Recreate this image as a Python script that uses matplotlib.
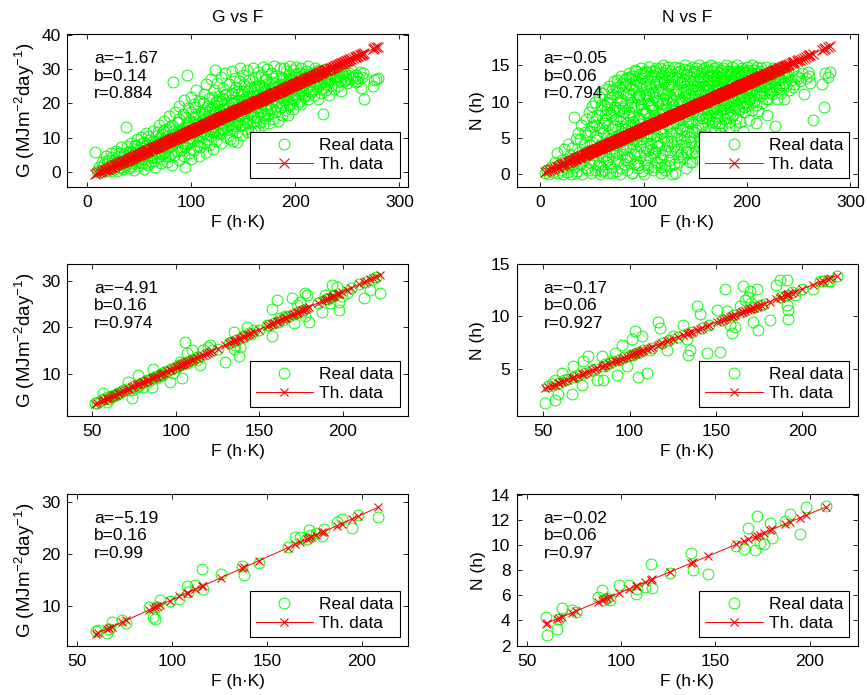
import matplotlib.pyplot as plt

plt.rcParams.update({
    "font.family": ["Liberation Sans", "DejaVu Sans"],
    "font.size": 12.5,
    "mathtext.default": "regular",
    "axes.linewidth": 0.8,
})

GREEN = "#00ff00"
RED = "#ff0000"

TOP_G_PTS = [
    (8, 6.0), (10, 0.5), (12, 1.5), (13, 0.2), (14, 3.0),
    (16, 2.5), (17, 0.8), (18, 4.8), (20, 1.2), (21, 3.6), (22, 0.4), (23, 5.6), (24, 2.2),
    (26, 1.0), (27, 3.8), (28, 6.3), (29, 0.5), (30, 2.5), (31, 4.6), (32, 1.6), (33, 7.2), (34, 3.2), (35, 0.8),
    (36, 5.4), (37, 13.1), (37, 2.0), (38, 7.5), (39, 4.0), (40, 1.2), (41, 6.2), (42, 8.6), (43, 2.8), (44, 5.0), (45, 0.6),
    (46, 3.6), (47, 7.6), (48, 9.8), (49, 1.8), (50, 5.6), (51, 4.2), (52, 10.2), (53, 2.6), (54, 7.0), (55, 1.0), (55, 8.8),
    (56, 4.8), (57, 11.4), (58, 6.4), (59, 2.2), (60, 9.4), (61, 3.4), (62, 7.8), (63, 12.0), (64, 5.6), (65, 1.6),
    (66, 10.6), (67, 4.0), (68, 8.2), (69, 13.6), (70, 6.2), (71, 2.6), (72, 11.2), (73, 7.4), (74, 15.0), (75, 4.8), (75, 9.6),
    (76, 12.6), (77, 3.0), (78, 7.0), (79, 16.4), (80, 10.0), (81, 5.4), (82, 2.0), (82, 13.8), (83, 26.3), (84, 8.4), (85, 17.6), (85, 11.2),
    (86, 6.2), (87, 14.6), (88, 3.6), (88, 19.4), (89, 9.6), (90, 12.4), (91, 7.4), (92, 16.8), (93, 4.8), (93, 21.0), (94, 1.6), (94, 10.8), (95, 13.6),
    (96, 28.4), (96, 8.2), (97, 18.6), (98, 5.6), (98, 15.0), (99, 11.4), (100, 22.0), (100, 3.8), (101, 13.0), (102, 9.2), (103, 19.8), (103, 6.6), (104, 16.2), (105, 11.8), (105, 24.0),
    (106, 7.8), (107, 14.2), (108, 20.6), (108, 4.6), (109, 10.4), (110, 17.4), (111, 12.8), (112, 22.8), (112, 8.6), (113, 15.6), (114, 25.6), (114, 6.0), (115, 19.2), (115, 11.0),
    (116, 13.8), (117, 21.6), (117, 8.0), (118, 16.6), (119, 27.0), (119, 10.6), (120, 18.8), (121, 6.8), (121, 14.8), (122, 23.8), (123, 12.2), (123, 29.8), (124, 17.2), (124, 9.2), (125, 20.4), (125, 26.0),
    (126, 14.0), (127, 22.2), (127, 11.0), (128, 18.0), (129, 27.8), (129, 8.4), (130, 15.6), (131, 24.4), (131, 12.6), (132, 20.2), (133, 16.8), (133, 28.8), (134, 10.2), (134, 22.8), (135, 18.6), (135, 13.8),
    (136, 25.6), (137, 15.8), (137, 9.6), (138, 21.0), (139, 29.4), (139, 12.8), (140, 18.0), (140, 9.0), (141, 24.0), (142, 15.0), (142, 27.4), (143, 20.6), (144, 11.8), (144, 8.9), (145, 22.8), (145, 17.0),
    (146, 26.4), (147, 30.2), (147, 13.8), (148, 19.4), (149, 23.6), (149, 10.8), (150, 16.2), (150, 28.2), (151, 21.4), (152, 12.6), (152, 25.0), (153, 18.4), (154, 29.6), (154, 14.8), (155, 22.2), (155, 11.6),
    (156, 26.8), (157, 17.2), (158, 11.6), (158, 20.8), (159, 30.4), (159, 15.0), (160, 24.2), (161, 13.2), (161, 27.8), (162, 19.0), (163, 22.6), (163, 16.0), (164, 29.2), (164, 12.4), (165, 25.4), (165, 20.0),
    (166, 14.6), (167, 28.4), (167, 22.0), (168, 17.8), (169, 30.6), (169, 13.8), (170, 24.8), (171, 19.6), (171, 15.8), (172, 27.2), (173, 21.8), (173, 30.0), (174, 16.8), (175, 25.8), (175, 14.2),
    (176, 23.0), (177, 29.0), (177, 18.6), (178, 26.2), (179, 15.4), (179, 21.2), (180, 30.8), (181, 24.4), (181, 17.4), (182, 28.0), (183, 20.4), (183, 14.8), (184, 25.6), (185, 30.2), (185, 19.0),
    (186, 22.6), (187, 27.6), (187, 16.6), (188, 24.8), (189, 30.4), (189, 20.6), (190, 18.0), (191, 26.0), (191, 29.4), (192, 22.0), (193, 16.7), (194, 28.2), (194, 24.0), (195, 19.6), (195, 30.8),
    (196, 26.6), (197, 21.6), (198, 29.6), (198, 18.4), (199, 24.6), (200, 27.8), (201, 22.8), (201, 30.6), (202, 19.8), (203, 26.0), (204, 28.8), (204, 23.6), (205, 20.8),
    (206, 19.7), (206, 30.2), (207, 25.4), (208, 27.8), (209, 22.4), (210, 29.4), (211, 24.6), (212, 21.2), (212, 30.8), (213, 27.0), (214, 25.8), (215, 23.4),
    (216, 29.0), (217, 26.4), (218, 22.6), (219, 30.2), (220, 24.8), (221, 27.8), (222, 21.4), (223, 29.4), (224, 25.6), (225, 23.0),
    (226, 28.4), (227, 17.0), (228, 26.2), (229, 30.0), (230, 24.0), (231, 27.6), (232, 22.6), (233, 29.0), (234, 25.4),
    (236, 28.2), (237, 24.2), (238, 26.8), (240, 29.6), (241, 25.2), (242, 27.6), (244, 23.6), (245, 28.8),
    (247, 26.6), (248, 29.0), (250, 26.0), (251, 28.2), (253, 27.4), (254, 29.6),
    (256, 27.6), (258, 28.4), (259, 26.6), (262, 29.2), (263, 24.6), (264, 27.8), (266, 21.2), (265, 28.8),
    (275, 25.2), (276, 26.8), (278, 27.0), (280, 27.4),
]

# denser core of the G cloud, close to the fitted line
TOP_G_CORE = [
    (19, 3.2), (24, 4.4), (27, 1.8), (31, 5.6), (34, 1.4), (36, 3.4), (39, 6.0), (42, 1.8), (43, 5.8), (46, 8.0),
    (48, 3.2), (51, 6.6), (53, 8.6), (56, 2.8), (57, 7.8), (59, 10.4), (61, 5.0), (63, 9.0), (64, 3.2), (66, 7.0),
    (68, 11.6), (69, 4.6), (71, 9.0), (72, 5.2), (74, 12.4), (76, 8.2), (77, 10.6), (78, 4.8), (80, 13.2), (81, 7.6),
    (83, 11.0), (84, 5.0), (86, 9.8), (87, 12.0), (88, 15.6), (90, 6.4), (91, 10.2), (92, 13.0), (94, 7.2), (95, 16.2),
    (96, 11.2), (97, 14.2), (99, 8.8), (100, 17.6), (101, 10.0), (102, 14.6), (103, 12.4), (104, 19.0), (106, 10.6), (107, 16.6),
    (108, 13.2), (109, 7.2), (110, 15.0), (111, 20.0), (112, 11.4), (113, 18.0), (114, 13.8), (116, 9.8), (117, 17.4), (118, 12.0),
    (119, 15.2), (120, 22.0), (121, 11.6), (122, 18.4), (123, 15.6), (124, 20.8), (126, 11.8), (127, 17.2), (128, 14.4), (129, 20.6),
    (130, 12.4), (131, 18.6), (132, 15.2), (133, 22.6), (134, 13.2), (136, 19.4), (137, 12.4), (138, 16.6), (139, 23.0), (140, 14.0),
    (141, 20.4), (142, 18.2), (143, 24.8), (144, 15.2), (146, 19.8), (147, 16.4), (148, 22.8), (149, 13.6), (150, 20.6), (151, 25.6),
    (152, 17.8), (153, 21.8), (154, 14.4), (156, 19.0), (157, 24.6), (158, 16.6), (159, 22.2), (160, 18.2), (161, 25.0), (162, 14.8),
    (163, 19.8), (164, 22.8), (166, 17.6), (167, 25.0), (168, 20.2), (169, 23.4), (170, 16.6), (171, 26.8), (172, 19.6), (173, 24.2),
    (174, 21.2), (176, 18.4), (177, 23.8), (178, 20.6), (179, 27.4), (180, 22.4), (182, 19.2), (183, 25.2), (184, 21.8), (186, 24.4),
    (187, 20.2), (188, 27.2), (190, 23.2), (191, 21.2), (192, 25.8), (194, 19.8), (195, 27.0), (196, 23.2), (198, 25.6), (199, 21.0),
    (200, 28.6), (202, 24.4), (203, 22.2), (205, 26.8), (206, 24.0), (208, 21.8), (209, 28.6), (211, 26.4), (213, 23.6), (215, 28.2),
    (217, 24.2), (218, 27.8), (220, 26.6), (222, 29.6), (223, 25.0), (225, 27.4), (227, 24.6), (229, 28.4), (231, 25.8), (233, 27.0),
    (235, 29.2), (239, 27.8), (243, 26.4), (246, 28.0), (249, 27.2), (252, 28.8), (257, 26.2), (260, 27.4),
    (45.5, 4.3), (50.5, 3.1), (54.5, 5.3), (58.5, 7.1), (62.5, 4.3), (65.5, 8.9), (67.5, 6.1), (70.5, 10.3), (73.5, 5.9), (76.5, 9.3),
    (79.5, 7.9), (82.5, 11.9), (85.5, 8.7), (89.5, 11.3), (92.5, 8.5), (95.5, 12.3), (98.5, 9.9), (101.5, 15.7), (104.5, 13.9), (106.5, 9.1),
    (109.5, 12.1), (112.5, 16.9), (115.5, 14.7), (118.5, 18.5), (121.5, 13.1), (125.5, 16.7), (128.5, 12.9), (130.5, 21.3), (133.5, 18.1), (136.5, 15.1),
    (139.5, 19.9), (142.5, 13.5), (145.5, 21.1), (148.5, 17.3), (151.5, 19.5), (154.5, 23.5), (157.5, 20.1), (160.5, 16.1), (163.5, 24.1), (166.5, 19.1),
    (169.5, 21.9), (172.5, 18.1), (175.5, 22.1), (178.5, 24.9), (181.5, 21.1), (184.5, 23.1), (187.5, 25.3), (190.5, 22.3), (193.5, 26.5), (197.5, 24.1),
    (200.5, 25.9), (204.5, 27.3), (207.5, 23.1), (210.5, 26.1), (214.5, 27.1), (219.5, 25.9), (224.5, 28.1), (230.5, 26.9),
]

TOP_N_PTS = [
    (5, 0.1), (7, 0.6), (9, 0.0), (11, 1.0), (12, 0.3), (14, 1.6),
    (16, 2.9), (17, 0.2), (18, 1.2), (20, 0.5), (21, 2.0), (22, 0.0), (23, 3.4), (24, 1.0),
    (26, 0.3), (27, 4.2), (28, 1.6), (29, 2.6), (30, 0.0), (31, 3.6), (32, 1.0), (33, 7.9), (34, 2.2), (35, 4.8),
    (36, 0.4), (37, 5.6), (38, 3.0), (39, 1.4), (40, 6.8), (41, 0.0), (42, 4.2), (43, 2.4), (44, 7.6), (45, 0.8), (45, 5.4),
    (46, 3.2), (47, 8.6), (47, 1.6), (48, 6.0), (49, 0.2), (50, 9.4), (50, 4.4), (51, 2.6), (52, 7.2), (53, 0.6), (53, 10.0), (54, 5.2), (55, 3.4), (55, 8.2),
    (56, 1.2), (57, 10.6), (57, 6.4), (58, 0.0), (58, 4.0), (59, 8.8), (60, 2.4), (60, 11.2), (61, 5.8), (62, 0.6), (62, 9.6), (63, 3.6), (63, 7.4), (64, 11.8), (64, 1.8), (65, 5.0), (65, 9.0),
    (66, 0.2), (66, 6.8), (67, 12.2), (67, 3.0), (68, 10.0), (68, 4.8), (69, 8.2), (69, 1.0), (70, 11.6), (70, 6.2), (71, 2.6), (71, 12.8), (72, 9.2), (72, 4.0), (73, 0.4), (73, 7.6), (74, 13.0), (74, 10.6), (75, 5.4), (75, 2.0),
    (76, 8.8), (76, 12.0), (77, 0.0), (77, 4.4), (78, 6.6), (78, 13.6), (79, 10.2), (79, 2.8), (80, 11.4), (80, 7.8), (81, 1.4), (81, 5.6), (82, 13.0), (82, 9.4), (83, 13.2), (83, 3.6), (84, 0.6), (84, 7.0), (85, 11.0), (85, 4.8),
    (86, 14.0), (86, 8.6), (87, 2.2), (87, 12.4), (88, 6.0), (88, 10.0), (89, 0.2), (89, 13.6), (90, 4.2), (90, 8.0), (91, 11.6), (91, 1.4), (92, 14.4), (92, 6.8), (93, 14.2), (93, 3.2), (94, 9.6), (94, 12.8), (95, 5.4), (95, 0.8),
    (96, 10.8), (96, 7.4), (97, 13.8), (97, 2.6), (98, 14.6), (98, 4.8), (99, 9.0), (99, 12.2), (100, 0.0), (100, 6.4), (101, 11.0), (101, 14.2), (102, 3.6), (102, 8.4), (103, 13.0), (103, 1.2), (104, 10.2), (104, 5.6), (105, 14.8), (105, 7.8),
    (106, 2.4), (106, 12.4), (107, 9.4), (107, 4.2), (108, 14.2), (108, 6.8), (109, 0.6), (109, 11.4), (110, 13.6), (110, 8.2), (111, 3.0), (111, 10.6), (112, 14.6), (112, 5.4), (113, 1.6), (113, 12.8), (114, 7.2), (114, 9.8), (115, 14.0), (115, 4.0),
    (116, 11.8), (116, 6.2), (117, 0.2), (117, 13.4), (118, 8.8), (118, 2.8), (119, 15.0), (119, 10.4), (120, 5.0), (120, 12.6), (121, 7.6), (121, 1.2), (122, 14.4), (122, 9.6), (123, 3.8), (123, 11.2), (124, 6.6), (124, 14.8), (125, 13.4), (125, 2.0),
    (126, 8.2), (126, 10.8), (127, 4.6), (127, 14.2), (128, 0.0), (128, 12.0), (129, 7.0), (129, 9.4), (130, 0.1), (130, 14.8), (131, 5.8), (131, 11.6), (132, 3.2), (132, 13.2), (133, 8.6), (133, 10.2), (134, 1.6), (134, 14.6), (135, 6.4), (135, 12.6),
    (136, 4.0), (136, 9.8), (137, 14.0), (137, 7.6), (138, 2.4), (138, 11.4), (139, 13.0), (139, 5.2), (140, 10.6), (140, 15.0), (141, 8.0), (141, 0.8), (142, 12.4), (142, 6.0), (143, 3.4), (143, 14.4), (144, 9.2), (144, 11.0), (145, 7.0), (145, 13.6),
    (146, 4.4), (146, 10.0), (147, 14.8), (147, 1.7), (148, 8.6), (148, 12.2), (149, 5.8), (149, 13.8), (150, 3.0), (150, 11.2), (151, 7.4), (151, 14.6), (152, 9.8), (152, 2.2), (153, 12.8), (153, 6.4), (154, 10.4), (154, 15.0), (155, 4.6), (155, 8.2),
    (156, 13.4), (156, 11.0), (157, 6.8), (157, 14.4), (158, 9.0), (158, 3.6), (159, 12.2), (159, 7.8), (160, 14.8), (160, 10.2), (161, 5.2), (161, 13.0), (162, 8.4), (162, 11.8), (163, 2.6), (163, 14.2), (164, 9.6), (164, 6.2), (165, 12.6), (165, 15.0),
    (166, 7.2), (166, 10.8), (167, 13.6), (167, 4.4), (168, 14.6), (168, 9.0), (169, 11.6), (169, 6.0), (170, 13.0), (170, 8.0), (171, 14.8), (171, 10.4), (172, 3.2), (172, 12.2), (173, 7.0), (173, 14.0), (174, 9.6), (174, 11.2), (175, 5.6), (175, 13.4),
    (176, 6.6), (176, 12.0), (177, 14.6), (177, 9.0), (178, 10.8), (178, 4.6), (179, 13.4), (179, 7.8), (180, 11.4), (180, 15.0), (181, 8.4), (181, 2.8), (182, 12.8), (182, 10.0), (183, 14.2), (183, 6.4), (184, 9.2), (184, 13.0), (185, 11.6), (185, 5.0),
    (186, 14.8), (186, 8.0), (187, 12.4), (187, 10.2), (188, 6.8), (188, 13.8), (189, 9.6), (189, 11.0), (190, 15.0), (190, 4.2), (191, 12.6), (191, 8.8), (192, 14.2), (192, 10.6), (193, 7.2), (193, 13.2), (194, 11.8), (195, 9.4), (195, 14.6),
    (196, 12.0), (196, 6.0), (197, 14.0), (197, 10.8), (198, 8.6), (198, 13.0), (199, 11.4), (200, 14.8), (200, 9.6), (201, 12.6), (202, 7.4), (202, 14.2), (203, 10.4), (204, 13.4), (204, 11.8), (205, 8.8), (205, 15.0),
    (206, 12.4), (207, 14.4), (207, 10.0), (208, 13.2), (209, 7.0), (209, 11.4), (210, 14.8), (211, 12.8), (211, 8.7), (212, 13.8), (213, 10.8), (214, 14.6), (214, 12.0), (215, 9.8),
    (216, 13.6), (217, 11.2), (218, 14.8), (219, 12.6), (219, 8.2), (220, 10.4), (221, 14.0), (222, 12.0), (223, 13.6), (224, 11.0), (225, 14.6),
    (226, 12.6), (227, 6.6), (228, 13.8), (229, 10.4), (230, 14.4), (231, 12.0), (232, 13.0), (233, 11.2), (234, 14.0),
    (236, 10.3), (237, 13.4), (238, 12.2), (240, 14.2), (241, 11.6), (243, 13.0), (245, 14.4), (246, 12.4), (248, 13.6),
    (251, 12.9), (253, 14.0), (255, 11.0), (257, 13.2), (259, 14.1), (260, 13.6), (261, 12.6), (264, 7.5),
    (273, 12.5), (275, 9.3), (276, 14.0), (278, 13.4), (280, 14.1),
]

# denser core of the N cloud
TOP_N_CORE = [
    (30.5, 1.2), (34.5, 0.2), (38.5, 4.8), (41.5, 2.0), (43.5, 5.8), (46.5, 0.6), (48.5, 4.0), (50.5, 6.6), (52.5, 1.8), (54.5, 6.8),
    (56.5, 3.0), (58.5, 9.6), (59.5, 0.4), (61.5, 7.0), (63.5, 2.6), (64.5, 10.0), (66.5, 4.2), (67.5, 8.4), (69.5, 0.2), (69.5, 11.0),
    (70.5, 3.6), (72.5, 6.6), (73.5, 12.0), (74.5, 1.6), (76.5, 5.2), (77.5, 9.8), (78.5, 0.8), (79.5, 12.6), (80.5, 3.4), (81.5, 8.6),
    (82.5, 6.2), (83.5, 11.0), (84.5, 2.4), (85.5, 13.4), (86.5, 5.0), (87.5, 9.2), (88.5, 0.2), (88.5, 11.8), (89.5, 7.2), (90.5, 2.8),
    (91.5, 13.0), (92.5, 4.6), (93.5, 10.6), (94.5, 1.2), (95.5, 7.8), (96.5, 12.6), (97.5, 5.6), (98.5, 0.4), (99.5, 10.4), (99.5, 14.0),
    (100.5, 3.0), (101.5, 8.6), (102.5, 12.0), (103.5, 5.2), (104.5, 0.8), (105.5, 11.2), (106.5, 7.2), (107.5, 13.6), (108.5, 3.4), (109.5, 9.2),
    (110.5, 1.0), (111.5, 12.4), (112.5, 7.6), (113.5, 4.4), (114.5, 11.6), (115.5, 14.6), (116.5, 2.2), (117.5, 9.8), (118.5, 6.0), (119.5, 12.8),
    (120.5, 0.6), (121.5, 10.4), (122.5, 4.6), (123.5, 13.8), (124.5, 8.4), (125.5, 3.0), (126.5, 12.4), (127.5, 6.4), (128.5, 10.2), (129.5, 1.4),
    (130.5, 13.4), (131.5, 8.4), (132.5, 4.8), (133.5, 11.6), (134.5, 7.6), (135.5, 14.2), (136.5, 2.8), (137.5, 10.2), (138.5, 6.6), (139.5, 12.2),
    (140.5, 4.4), (141.5, 13.8), (142.5, 9.8), (143.5, 7.6), (144.5, 1.6), (145.5, 11.8), (146.5, 5.8), (147.5, 13.0), (148.5, 9.6), (149.5, 3.8),
    (150.5, 14.2), (151.5, 8.6), (152.5, 11.6), (153.5, 5.2), (154.5, 13.2), (155.5, 10.2), (156.5, 7.8), (157.5, 12.2), (158.5, 14.6), (159.5, 5.8),
    (160.5, 11.6), (161.5, 9.0), (162.5, 13.6), (163.5, 7.4), (164.5, 11.0), (165.5, 8.6), (166.5, 14.2), (167.5, 10.0), (168.5, 12.8), (169.5, 7.0),
    (170.5, 9.4), (171.5, 13.6), (172.5, 11.0), (173.5, 8.4), (174.5, 14.4), (175.5, 10.4), (176.5, 12.8), (177.5, 7.6), (178.5, 13.8), (179.5, 9.8),
    (180.5, 12.4), (181.5, 11.0), (182.5, 7.2), (183.5, 13.6), (184.5, 10.8), (185.5, 14.2), (186.5, 9.6), (187.5, 11.6), (188.5, 13.2), (189.5, 7.8),
    (190.5, 12.0), (191.5, 14.0), (192.5, 9.0), (193.5, 11.4), (194.5, 13.6), (195.5, 10.6), (196.5, 14.4), (197.5, 12.2), (198.5, 9.8), (199.5, 13.6),
    (200.5, 11.8), (201.5, 14.4), (202.5, 10.2), (203.5, 12.4), (204.5, 14.0), (206.5, 11.0), (207.5, 13.2), (208.5, 9.6), (210.5, 12.2), (212.5, 14.2),
    (213.5, 11.6), (215.5, 13.0), (217.5, 12.4), (218.5, 10.4), (220.5, 13.4), (222.5, 11.4), (223.5, 14.2), (226.5, 13.0), (228.5, 11.8), (231.5, 13.4),
    (235.5, 12.6), (239.5, 13.4), (244.5, 12.0), (249.5, 13.2),
    (44.25, 3.1), (49.75, 7.9), (54.25, 4.7), (57.75, 1.1), (60.25, 6.3), (62.75, 8.1), (65.75, 2.1), (67.25, 10.7), (70.75, 8.9), (71.25, 5.1),
    (73.75, 2.9), (75.25, 11.3), (77.25, 7.3), (78.75, 3.9), (80.25, 9.1), (81.75, 12.1), (83.25, 1.9), (84.75, 8.1), (85.25, 5.9), (86.75, 10.9),
    (87.25, 3.7), (88.75, 13.1), (89.25, 6.5), (90.75, 9.3), (91.25, 4.9), (92.75, 12.3), (93.25, 1.7), (94.75, 7.5), (95.25, 11.1), (96.75, 3.9),
    (97.25, 9.7), (98.75, 13.3), (99.25, 5.3), (100.75, 8.3), (101.75, 1.9), (102.75, 10.9), (103.25, 14.1), (104.75, 3.3), (105.25, 9.5), (106.75, 5.3),
    (107.25, 11.9), (108.75, 8.9), (109.25, 2.9), (110.75, 14.3), (111.25, 6.3), (112.75, 10.1), (113.25, 3.9), (114.75, 12.7), (115.25, 8.3), (116.75, 0.9),
    (117.25, 5.7), (118.75, 11.1), (119.25, 13.9), (120.75, 3.3), (121.25, 8.9), (122.75, 6.9), (123.25, 12.3), (124.75, 1.1), (125.25, 10.3), (126.75, 5.5),
    (127.25, 13.1), (128.75, 8.7), (129.25, 3.9), (130.75, 11.1), (131.25, 7.1), (132.75, 14.1), (133.25, 2.3), (134.75, 9.9), (135.25, 4.9), (136.75, 12.7),
    (137.25, 6.1), (138.75, 8.9), (139.25, 14.5), (140.75, 3.1), (141.25, 11.7), (142.75, 7.3), (143.25, 10.5), (144.75, 5.1), (145.25, 12.9), (146.75, 8.3),
    (147.25, 2.9), (148.75, 10.7), (149.25, 14.1), (150.75, 6.1), (151.25, 12.1), (152.75, 8.1), (153.25, 3.9), (154.75, 11.3), (155.25, 13.9), (156.75, 9.7),
    (157.25, 5.3), (158.75, 12.9), (159.25, 10.9), (160.75, 7.9), (161.25, 14.3), (162.75, 10.3), (163.25, 12.3), (164.75, 8.1), (165.25, 13.7), (166.75, 11.5),
    (167.25, 9.1), (168.75, 13.3), (169.25, 10.7), (170.75, 12.3), (171.25, 7.7), (172.75, 14.1), (173.25, 11.9), (174.75, 8.9), (175.25, 12.9), (176.75, 10.1),
    (177.25, 13.1), (178.75, 9.1), (179.25, 11.9), (180.75, 14.3), (181.25, 9.9), (182.75, 12.1), (183.25, 8.3), (184.75, 13.9), (185.25, 10.3), (186.75, 12.9),
    (187.25, 9.1), (188.75, 11.3), (189.25, 14.3), (190.75, 10.9), (191.25, 13.1), (192.75, 12.1), (193.25, 9.9), (194.75, 12.9), (195.25, 11.1), (196.75, 13.7),
    (197.25, 9.3), (198.75, 11.9), (199.25, 14.1), (200.75, 10.7), (202.25, 12.9), (203.75, 11.3), (205.25, 13.7), (206.75, 10.1), (208.25, 12.3), (209.75, 13.9),
    (211.25, 11.1), (213.25, 12.7), (216.25, 12.1), (219.75, 13.1), (221.25, 11.7), (224.25, 12.9), (227.25, 12.1), (230.25, 13.1), (233.75, 12.3), (238.25, 13.9),
]

# ---- row 2 ----
MID_G_PTS = [
    (51.6, 3.8), (56.6, 5.8), (58.6, 4.0), (62.6, 5.1), (65.6, 5.8), (68.6, 6.5), (73.6, 4.7), (73.6, 6.5),
    (76.6, 7.2), (71.6, 8.3), (80.6, 7.2), (77.6, 9.7), (86.6, 11.1), (82.6, 8.6), (85.6, 7.2), (90.6, 9.4),
    (96.6, 8.3), (98.6, 10.1), (103.6, 9.0), (102.6, 12.6), (105.6, 16.9), (106.6, 14.4), (109.6, 15.1),
    (112.6, 12.9), (114.6, 11.9), (119.6, 15.8), (120.6, 16.2), (116.6, 15.1), (129.6, 12.6), (134.6, 19.0),
    (135.6, 16.2), (137.6, 13.7), (138.6, 15.8), (134.6, 15.4), (143.6, 18.7), (142.6, 20.0), (146.6, 19.4),
    (157.6, 18.1), (154.6, 20.5), (157.6, 24.0), (160.6, 25.8), (162.6, 21.9), (165.6, 22.3), (169.6, 26.2),
    (170.6, 20.8), (172.6, 24.8), (174.6, 25.5), (175.6, 23.3), (178.6, 26.9), (179.6, 21.2), (177.6, 22.3),
    (187.6, 23.3), (192.6, 25.1), (193.6, 29.1), (196.6, 28.7), (197.6, 25.5), (199.6, 26.6), (197.6, 23.7),
    (202.6, 27.3), (212.6, 26.2), (216.6, 28.0), (222.6, 27.3), (189.6, 26.9), (177.6, 27.3),
    (53, 3.8), (55, 4.3), (57, 4.5), (59, 5.0), (60, 4.6), (61, 5.2), (63, 5.5), (64, 5.4), (66, 5.9),
    (67, 6.0), (70, 6.6), (72, 6.5), (75, 7.4), (78, 7.6), (79, 8.0), (81, 8.2), (83, 8.7), (84, 8.4),
    (87, 9.3), (88, 9.0), (89, 9.6), (91, 10.0), (92, 9.8), (93, 10.3), (95, 10.6), (97, 10.9), (100, 11.4),
    (101, 11.5), (102, 11.8), (104, 12.0), (105, 12.2), (107, 12.4), (108, 12.7), (110, 12.9), (111, 13.1),
    (113, 13.5), (118, 14.2), (122, 15.0), (125, 15.3), (132, 16.6), (133, 16.8), (136, 17.2), (140, 18.0),
    (141, 17.9), (145, 18.6), (150, 19.4), (156, 20.4), (159, 20.8), (161, 21.2), (164, 21.6), (166, 22.1),
    (168, 22.3), (171, 22.8), (173, 23.2), (176, 23.6), (185, 25.2), (190, 26.0), (191, 26.0), (194, 26.6),
    (195, 26.8), (205, 28.4), (210, 29.2), (214, 29.8), (218, 30.4), (220, 30.8),
]

MID_N_PTS = [
    (51, 1.7), (56.8, 2.0), (58.7, 2.6), (56.8, 3.9), (60.6, 4.6), (66.4, 2.6), (67.4, 5.2), (72.2, 3.4),
    (73.2, 5.7), (76.1, 6.2), (81.0, 3.9), (84.7, 3.9), (83.8, 6.2), (85.7, 5.2), (92.5, 4.4), (91.5, 6.5),
    (95.4, 7.3), (98.3, 5.2), (101.2, 7.8), (103.1, 8.6), (105.0, 4.2), (107.0, 8.1), (110.0, 4.6), (111.8, 6.8),
    (116.6, 9.5), (117.6, 8.9), (121.4, 6.8), (125.3, 8.1), (131.1, 9.2), (133, 7.8), (134, 6.3), (134.9, 6.8),
    (138.8, 11.0), (140.7, 10.2), (144.6, 6.5), (150.4, 10.6), (152.3, 6.6), (155.2, 12.6), (156.2, 10.5),
    (158.1, 9.2), (159.1, 8.4), (161, 9.0), (163.9, 11.0), (165.8, 12.9), (166.8, 11.6), (168.7, 11.9),
    (169.7, 12.4), (170.6, 11.3), (171.6, 9.5), (173.6, 12.6), (174.6, 8.7), (181.3, 9.7), (185.1, 13.0),
    (187.1, 13.5), (191, 13.5), (191, 11.1), (191.9, 10.6), (191.9, 9.8), (188, 11.9), (195.8, 12.1),
    (206.4, 12.6), (210.2, 13.4), (215.1, 13.4), (216, 13.4),
    (53, 3.3), (55, 3.5), (59, 3.6), (62, 3.9), (64, 4.0), (68, 4.2), (70, 4.4), (74, 4.6), (78, 4.9),
    (80, 5.0), (86, 5.4), (88, 5.5), (90, 5.7), (94, 5.8), (97, 6.1), (100, 6.3), (102, 6.3), (104, 6.5),
    (106, 6.6), (108, 6.8), (113, 7.0), (119, 7.5), (123, 7.7), (128, 8.0), (136, 8.5), (142, 8.9),
    (146, 9.2), (154, 9.7), (160, 10.1), (165, 10.4), (172, 10.9), (176, 11.1), (178, 11.2), (190, 12.0),
    (194, 12.3), (200, 12.6), (212, 13.4), (220, 13.9),
]

# ---- row 3 (same days for G and N) ----
BOT_F = [60, 61, 66, 67, 68.5, 74, 76, 88, 90, 91, 92.5, 94, 99, 104, 108, 108.5, 112.5, 116, 116.5,
         126, 137, 138, 146, 161, 165, 167.5, 171, 172, 173.5, 176, 179, 180, 187, 189.5, 195, 198, 208.5]
BOT_G = [5.2, 5.3, 4.7, 5.5, 6.9, 7.3, 6.8, 9.8, 7.8, 7.5, 9.7, 11.1, 11.0, 11.4, 13.9, 12.6, 14.0, 17.1, 13.3,
         16.1, 17.7, 15.9, 18.2, 21.2, 23.2, 23.3, 22.8, 24.6, 23.6, 23.9, 23.4, 24.8, 26.1, 26.6, 24.9, 27.4, 27.1]
BOT_N = [4.3, 2.8, 3.3, 4.1, 5.0, 4.8, 4.7, 5.9, 6.4, 5.6, 5.8, 5.6, 6.8, 6.8, 6.1, 6.5, 6.7, 8.5, 6.6,
         7.8, 9.4, 8.0, 7.7, 9.9, 9.7, 11.4, 9.6, 12.3, 10.2, 10.1, 11.8, 10.6, 11.9, 12.5, 10.9, 13.0, 13.1]

# regression coefficients (a, b) used for the theoretical line, and the printed labels
FIT_TOP_G = (-1.67, 0.1365)
FIT_TOP_N = (-0.05, 0.0632)
FIT_MID_G = (-4.91, 0.1625)
FIT_MID_N = (-0.17, 0.064)
FIT_BOT_G = (-5.19, 0.1635)
FIT_BOT_N = (-0.02, 0.0626)

LABELS = {
    "top_g": ("\u22121.67", "0.14", "0.884"),
    "top_n": ("\u22120.05", "0.06", "0.794"),
    "mid_g": ("\u22124.91", "0.16", "0.974"),
    "mid_n": ("\u22120.17", "0.06", "0.927"),
    "bot_g": ("\u22125.19", "0.16", "0.99"),
    "bot_n": ("\u22120.02", "0.06", "0.97"),
}

G_LABEL = "G (MJm$^{-2}$day$^{-1}$)"
N_LABEL = "N (h)"
F_LABEL = "F (h\u00b7K)"


def panel(ax, f, real, fit, label, xlim, ylim, xticks, yticks, ylabel, title=None, xms=5.5):
    a, b = fit
    fs = sorted(f)
    th = [a + b * x for x in fs]
    ax.plot(f, real, "o", mfc="none", mec=GREEN, ms=7.8, mew=0.7, label="Real data")
    ax.plot(fs, th, "-x", color=RED, lw=0.7, ms=xms, mew=0.8, label="Th. data")

    ax.set_xlim(*xlim)
    ax.set_ylim(*ylim)
    ax.set_xticks(xticks)
    ax.set_yticks(yticks)
    ax.tick_params(direction="in", top=True, right=True, length=3.5, width=0.6)
    ax.tick_params(axis="x", pad=6)
    ax.tick_params(axis="y", pad=4.5)
    ax.set_xlabel(F_LABEL, labelpad=3)
    if ylabel == G_LABEL:
        ax.set_ylabel(ylabel, labelpad=3, fontsize=13.5)
    else:
        ax.set_ylabel(ylabel, labelpad=4)
    if title:
        ax.set_title(title, fontsize=12.5, pad=9)

    ax.text(0.079, 0.89, "a=%s\nb=%s\nr=%s" % label, transform=ax.transAxes,
            ha="left", va="top", linespacing=1.2)

    leg = ax.legend(loc="lower right", fancybox=False, edgecolor="black", framealpha=1,
                    handlelength=3.3, handletextpad=0.35, borderpad=0.35,
                    labelspacing=0.25, borderaxespad=0.5)
    leg.get_frame().set_linewidth(0.8)


fig = plt.figure(figsize=(8.67, 6.95), dpi=100)
left_x, right_x, w = 0.0773, 0.596, 0.3937
rows = [(0.7309, 0.2197), (0.4014, 0.2183), (0.0705, 0.2183)]

ax = fig.add_axes([left_x, rows[0][0], w, rows[0][1]])
f, g = zip(*(TOP_G_PTS + TOP_G_CORE))
panel(ax, f, g, FIT_TOP_G, LABELS["top_g"], (-19.2, 308.7), (-4.3, 40.1),
      [0, 100, 200, 300], [0, 10, 20, 30, 40], G_LABEL, "G vs F", xms=7)

ax = fig.add_axes([right_x, rows[0][0], w, rows[0][1]])
f, n = zip(*(TOP_N_PTS + TOP_N_CORE))
panel(ax, f, n, FIT_TOP_N, LABELS["top_n"], (-22.6, 307.5), (-1.8, 19.3),
      [0, 100, 200, 300], [0, 5, 10, 15], N_LABEL, "N vs F", xms=7)

ax = fig.add_axes([left_x, rows[1][0], w, rows[1][1]])
f, g = zip(*MID_G_PTS)
panel(ax, f, g, FIT_MID_G, LABELS["mid_g"], (34.8, 239.4), (0.9, 33.5),
      [50, 100, 150, 200], [10, 20, 30], G_LABEL)

ax = fig.add_axes([right_x, rows[1][0], w, rows[1][1]])
f, n = zip(*MID_N_PTS)
panel(ax, f, n, FIT_MID_N, LABELS["mid_n"], (34.6, 232.4), (0.45, 15.0),
      [50, 100, 150, 200], [5, 10, 15], N_LABEL)

ax = fig.add_axes([left_x, rows[2][0], w, rows[2][1]])
panel(ax, BOT_F, BOT_G, FIT_BOT_G, LABELS["bot_g"], (44.9, 224.5), (2.3, 31.4),
      [50, 100, 150, 200], [10, 20, 30], G_LABEL)

ax = fig.add_axes([right_x, rows[2][0], w, rows[2][1]])
panel(ax, BOT_F, BOT_N, FIT_BOT_N, LABELS["bot_n"], (44.7, 225.6), (1.96, 14.05),
      [50, 100, 150, 200], [2, 4, 6, 8, 10, 12, 14], N_LABEL)

fig.savefig("out.png", dpi=100)
